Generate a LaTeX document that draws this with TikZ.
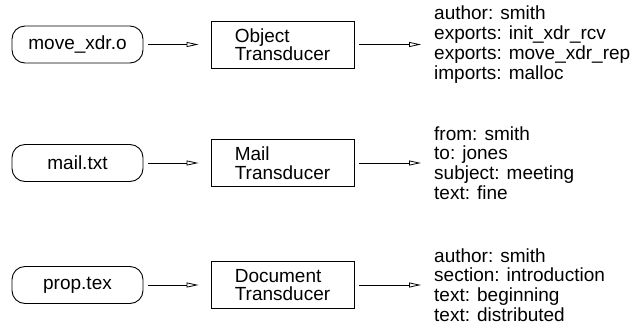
\documentclass[tikz,border=0pt]{standalone}
\usepackage{fontspec}
\setmainfont{Liberation Sans}
\usetikzlibrary{arrows.meta}
\begin{document}
\begin{tikzpicture}[x=1pt,y=-1pt,
 src/.style={draw, rounded corners=13pt, minimum width=131pt, minimum height=37pt, inner sep=0pt, line width=0.9pt, font=\fontsize{19}{19}\selectfont},
 trans/.style={draw, minimum width=143pt, minimum height=47pt, align=left, inner sep=0pt, line width=0.9pt, font=\fontsize{19}{18.5}\selectfont},
 attrs/.style={anchor=west, align=left, inner sep=0pt, font=\fontsize{19}{19.8}\selectfont},
 arr/.style={-{Triangle[open,length=12pt,width=5pt]}, line width=0.8pt, shorten <=5pt}]
\useasboundingbox (0,0) rectangle (641,327);
\node[src] (s1) at (77.5,44.5) {move\_xdr.o};
\node[trans] (t1) at (282.5,44.5) {Object\\Transducer};
\node[attrs] (a1) at (434,44.5) {author: smith\\exports: init\_xdr\_rcv\\exports: move\_xdr\_rep\\imports: malloc};
\node[src] (s2) at (77.5,163) {mail.txt};
\node[trans] (t2) at (282.5,163) {Mail\\Transducer};
\node[attrs] (a2) at (434,163) {from: smith\\to: jones\\subject: meeting\\text: fine};
\node[src] (s3) at (77.5,285) {prop.tex};
\node[trans] (t3) at (282.5,285) {Document\\Transducer};
\node[attrs] (a3) at (434,285) {author: smith\\section: introduction\\text: beginning\\text: distributed};
\foreach \i in {1,2,3}{
  \draw[arr, shorten >=12pt] (s\i) -- (t\i);
  \draw[arr, shorten >=13pt] (t\i) -- (a\i.west);
}
\end{tikzpicture}
\end{document}
